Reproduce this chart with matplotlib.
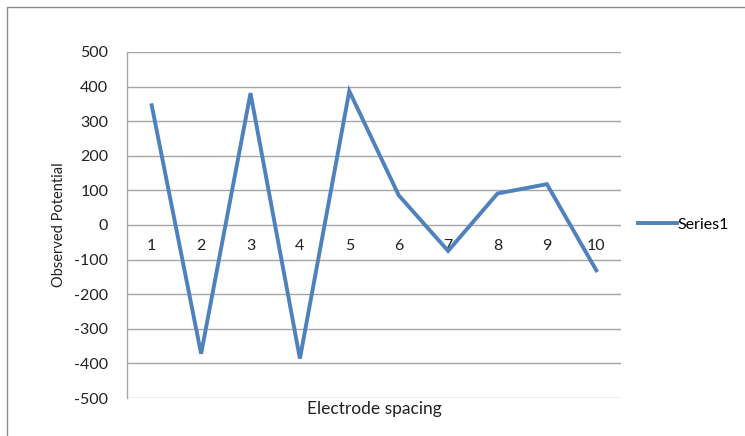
import matplotlib.pyplot as plt
from matplotlib.patches import Rectangle

# electrode spacing index vs observed potential
spacing = [1, 2, 3, 4, 5, 6, 7, 8, 9, 10]
potential = [346, -372, 381, -386, 387, 86, -75, 91, 118, -131]
y_ticks = [500, 400, 300, 200, 100, 0, -100, -200, -300, -400, -500]

line_color = '#4F81BD'
grid_color = '#A6A6A6'
text_color = '#222222'

plt.rcParams['font.family'] = ['Lato', 'DejaVu Sans']

fig = plt.figure(figsize=(7.45, 4.36), dpi=100)
W, H = 745, 436
ax = fig.add_axes([127 / W, 1 - 398 / H, (621 - 127) / W, (398 - 52) / H])

# chart frame
fig.patches.append(Rectangle((7 / W, -0.01), 1.0, 1 - 7 / H + 0.01, transform=fig.transFigure,
                             fill=False, edgecolor='#8C8C8C', linewidth=1.0))

ax.set_xlim(0.5, 10.5)
ax.set_ylim(-500, 500)
ax.set_yticks(y_ticks)
ax.set_yticklabels([str(v) for v in y_ticks], fontsize=11.5, color=text_color)
ax.tick_params(axis='y', length=0, pad=13.5)
ax.set_xticks([])

for v in y_ticks:
    ax.axhline(v, color=grid_color, linewidth=1.0, zorder=1)

for side in ('top', 'right', 'bottom'):
    ax.spines[side].set_visible(False)
ax.spines['left'].set_color(grid_color)
ax.spines['left'].set_linewidth(1.0)

# category labels sit just below the zero line
for s in spacing:
    ax.text(s, -60, str(s), ha='center', va='center', fontsize=11.5, color=text_color)

ax.plot(spacing, potential, color=line_color, linewidth=2.8, label='Series1',
        solid_joinstyle='miter', zorder=3)

ax.set_ylabel('Observed Potential', fontsize=10.5, color=text_color, labelpad=6)
ax.set_xlabel('Electrode spacing', fontsize=12.5, color=text_color, labelpad=2)

ax.legend(loc='center left', bbox_to_anchor=(1.022, 0.5), frameon=False, fontsize=11.5,
          handlelength=2.4, handletextpad=0.05, borderaxespad=0)

fig.savefig('out.png', dpi=100)
